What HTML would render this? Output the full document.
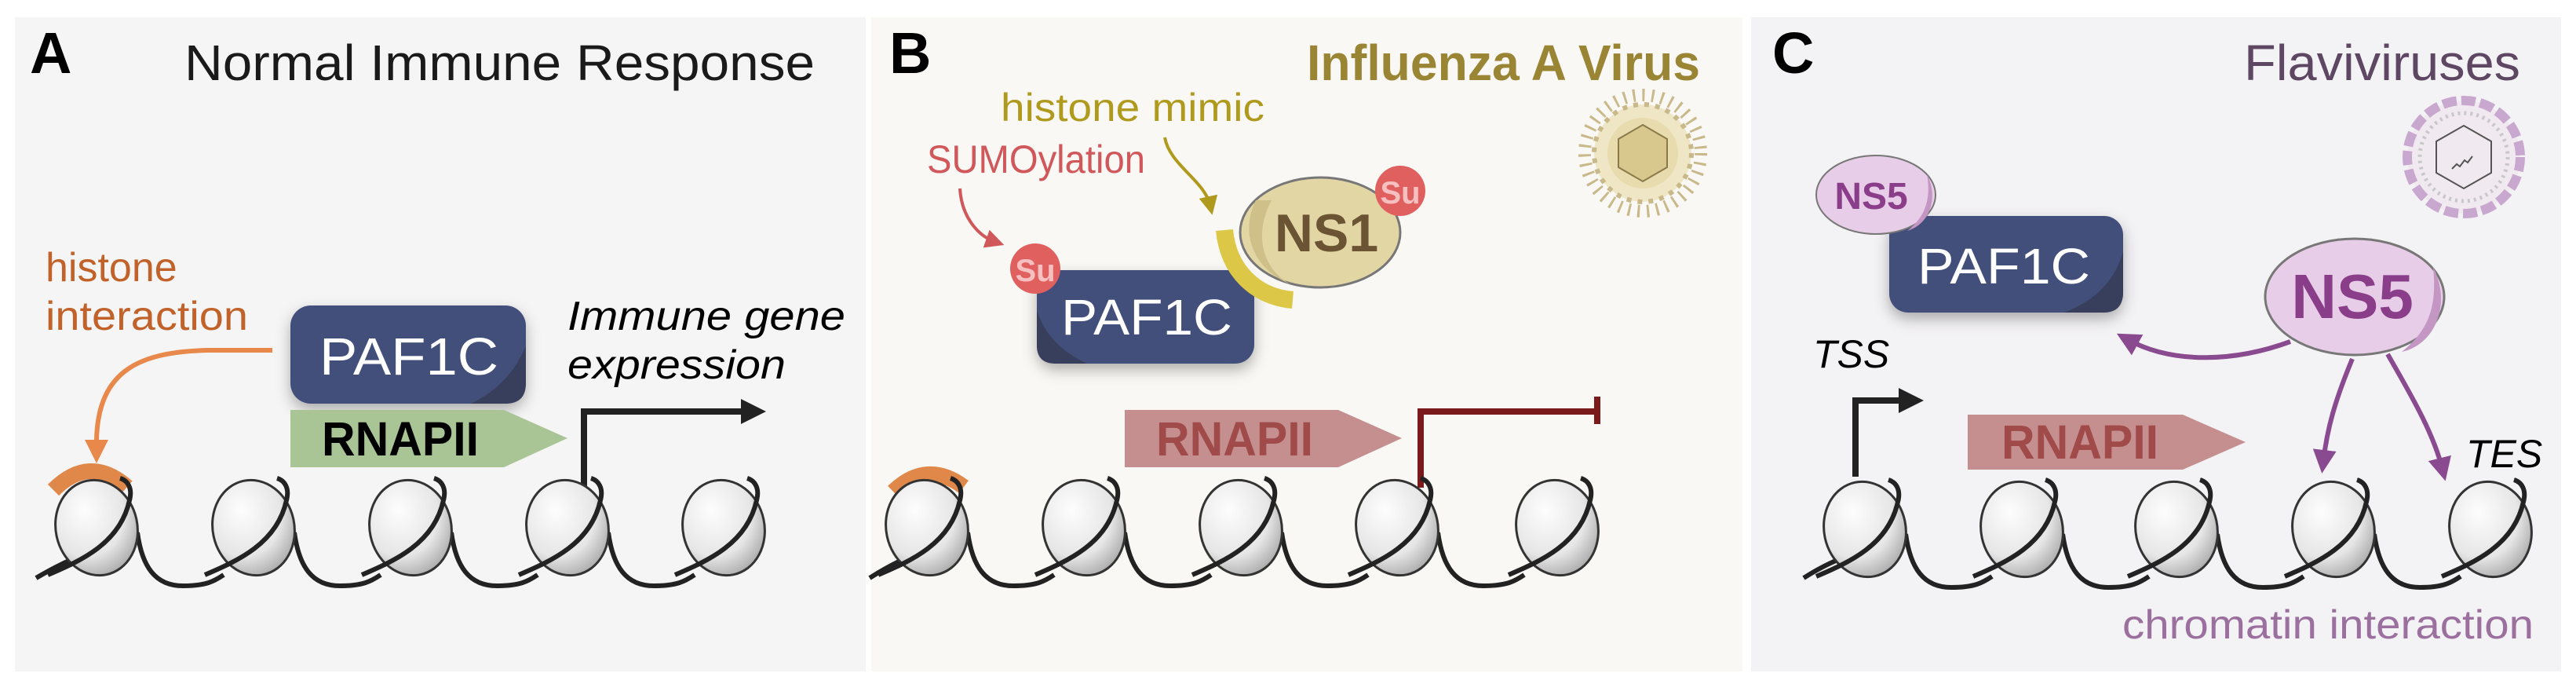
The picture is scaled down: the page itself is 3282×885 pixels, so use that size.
<!DOCTYPE html>
<html><head><meta charset="utf-8"><style>
html,body{margin:0;padding:0;background:#fff}
svg{display:block}
text{font-family:"Liberation Sans",Arial,sans-serif}
</style></head><body>
<svg width="3282" height="885" viewBox="0 0 3282 885" xmlns="http://www.w3.org/2000/svg">
<defs>
<radialGradient id="ng" cx="0.4" cy="0.3" r="0.8">
<stop offset="0" stop-color="#fdfdfd"/><stop offset="0.6" stop-color="#e6e6e6"/><stop offset="1" stop-color="#9a9a9a"/>
</radialGradient>
<g id="nuc">
<ellipse cx="0" cy="0" rx="52" ry="61" transform="rotate(-12)" fill="url(#ng)" stroke="#333" stroke-width="3"/>
<path d="M-62,60 C-20,42 30,20 42,-35 C46,-50 40,-60 30,-63" fill="none" stroke="#222" stroke-width="6"/>
</g>
<g id="dna">
<path d="M52,6 C58,50 75,74 110,74 C140,74 150,68 162,60" fill="none" stroke="#222" stroke-width="6"/>
</g>
<filter id="sh" x="-20%" y="-20%" width="140%" height="150%"><feDropShadow dx="0" dy="8" stdDeviation="9" flood-color="#000" flood-opacity="0.3"/></filter>
<marker id="ao" viewBox="0 0 10 10" refX="5" refY="5" markerWidth="5" markerHeight="5" orient="auto"><path d="M0,0L10,5L0,10z" fill="#e8884a"/></marker>
<marker id="ab" viewBox="0 0 10 10" refX="5" refY="5" markerWidth="4" markerHeight="4" orient="auto"><path d="M0,0L10,5L0,10z" fill="#222"/></marker>
<marker id="ar" viewBox="0 0 10 10" refX="5" refY="5" markerWidth="6" markerHeight="6" orient="auto"><path d="M0,0L10,5L0,10z" fill="#d0575a"/></marker>
<marker id="ay" viewBox="0 0 10 10" refX="5" refY="5" markerWidth="6" markerHeight="6" orient="auto"><path d="M0,0L10,5L0,10z" fill="#b09a1e"/></marker>
<marker id="ap" viewBox="0 0 10 10" refX="5" refY="5" markerWidth="5" markerHeight="5" orient="auto"><path d="M0,0L10,5L0,10z" fill="#8a4a90"/></marker>
</defs>

<rect x="19" y="22" width="1084" height="833" fill="#f5f5f5"/>
<rect x="1110" y="22" width="1110" height="833" fill="#f9f8f4"/>
<rect x="2231" y="22" width="1032" height="833" fill="#f3f2f5"/>

<!-- ===== Panel A ===== -->
<text x="38" y="93" font-size="74" font-weight="bold" fill="#000">A</text>
<text x="235" y="102" font-size="64" fill="#1a1a1a" textLength="803" lengthAdjust="spacingAndGlyphs">Normal Immune Response</text>
<text x="58" y="358" font-size="52" fill="#c0622a">histone</text>
<text x="58" y="420" font-size="52" fill="#c0622a" textLength="258" lengthAdjust="spacingAndGlyphs">interaction</text>
<path d="M347,446 L265,446 C180,448 125,470 123,560 L123,575" fill="none" stroke="#e8884a" stroke-width="6" marker-end="url(#ao)"/>
<path d="M68,624 Q114,578 162,620" fill="none" stroke="#e0884a" stroke-width="20"/>
<g filter="url(#sh)">
<rect x="370" y="389" width="300" height="125" rx="26" fill="#434f7a"/>
</g>
<path d="M670,440 L670,488 Q670,514 644,514 L600,514 Q650,490 670,440z" fill="#383f5c"/>
<text x="407" y="477" font-size="67" fill="#fff" textLength="228" lengthAdjust="spacingAndGlyphs">PAF1C</text>
<polygon points="370,522 642,522 723,558 642,595 370,595" fill="#a9c596"/>
<text x="410" y="580" font-size="61" font-weight="bold" fill="#000" textLength="200" lengthAdjust="spacingAndGlyphs">RNAPII</text>
<path d="M744,621 L744,524 L960,524" fill="none" stroke="#222" stroke-width="8" marker-end="url(#ab)"/>
<text x="723" y="420" font-size="52" font-style="italic" fill="#000" textLength="354" lengthAdjust="spacingAndGlyphs">Immune gene</text>
<text x="723" y="482" font-size="52" font-style="italic" fill="#000" textLength="278" lengthAdjust="spacingAndGlyphs">expression</text>
<path d="M46,736 C70,722 90,712 110,705" fill="none" stroke="#222" stroke-width="6"/>
<g transform="translate(123,672)"><use href="#dna"/><use href="#nuc"/></g>
<g transform="translate(323,672)"><use href="#dna"/><use href="#nuc"/></g>
<g transform="translate(523,672)"><use href="#dna"/><use href="#nuc"/></g>
<g transform="translate(723,672)"><use href="#dna"/><use href="#nuc"/></g>
<g transform="translate(922,672)"><use href="#nuc"/></g>

<!-- ===== Panel B ===== -->
<text x="1133" y="93" font-size="74" font-weight="bold" fill="#000">B</text>
<text x="1665" y="102" font-size="64" font-weight="bold" fill="#9a8535" textLength="501" lengthAdjust="spacingAndGlyphs">Influenza A Virus</text>
<text x="1275" y="154" font-size="50" fill="#b09a1e" textLength="336" lengthAdjust="spacingAndGlyphs">histone mimic</text>
<text x="1181" y="220" font-size="50" fill="#d0575a" textLength="278" lengthAdjust="spacingAndGlyphs">SUMOylation</text>
<path d="M1223,240 C1225,275 1245,300 1268,308" fill="none" stroke="#d0575a" stroke-width="4" marker-end="url(#ar)"/>
<path d="M1484,175 C1490,210 1535,230 1542,262" fill="none" stroke="#b09a1e" stroke-width="4" marker-end="url(#ay)"/>
<g filter="url(#sh)">
<rect x="1321" y="344" width="277" height="119" rx="24" fill="#434f7a"/>
</g>
<path d="M1321,395 L1321,440 Q1321,463 1345,463 L1385,463 Q1335,440 1321,395z" fill="#383f5c"/>
<text x="1352" y="426" font-size="64" fill="#fff" textLength="218" lengthAdjust="spacingAndGlyphs">PAF1C</text>
<circle cx="1319" cy="342" r="32" fill="#e06060"/>
<text x="1319" y="358" font-size="40" font-weight="bold" fill="#f7c0c0" text-anchor="middle">Su</text>
<path d="M1560,293 C1565,345 1600,378 1647,382" fill="none" stroke="#dcc846" stroke-width="22"/>
<ellipse cx="1682" cy="296" rx="102" ry="70" fill="#e3d6a5" stroke="#777" stroke-width="3"/>
<path d="M1600,255 C1578,300 1600,345 1645,362 C1610,345 1596,300 1620,255z" fill="#cfc08a"/>
<text x="1690" y="320" font-size="68" font-weight="bold" fill="#6b5434" text-anchor="middle">NS1</text>
<circle cx="1784" cy="243" r="32" fill="#e06060"/>
<text x="1784" y="259" font-size="40" font-weight="bold" fill="#f7c0c0" text-anchor="middle">Su</text>
<polygon points="1433,522 1705,522 1786,558 1705,595 1433,595" fill="#c58f8f"/>
<text x="1473" y="580" font-size="61" font-weight="bold" fill="#a04a4a" textLength="200" lengthAdjust="spacingAndGlyphs">RNAPII</text>
<path d="M1810,621 L1810,524 L2035,524" fill="none" stroke="#7a1a1a" stroke-width="8"/>
<path d="M2035,505 L2035,540" stroke="#7a1a1a" stroke-width="8"/>
<path d="M1138,626 Q1181,585 1228,620" fill="none" stroke="#e0884a" stroke-width="20"/>
<g transform="translate(2093,195)">
<circle r="62" fill="#efe6c6" stroke="#c9b98a" stroke-width="6" stroke-dasharray="6 8"/>
<circle r="74" fill="none" stroke="#c9b98a" stroke-width="16" stroke-dasharray="3 9"/>
<circle r="45" fill="#e8dcae"/>
<polygon points="0,-36 31,-18 31,18 0,36 -31,18 -31,-18" fill="#d8c88e" stroke="#8a7a4a" stroke-width="2"/>
</g>
<path d="M1108,736 C1130,722 1150,712 1168,705" fill="none" stroke="#222" stroke-width="6"/>
<g transform="translate(1181,672)"><use href="#dna"/><use href="#nuc"/></g>
<g transform="translate(1381,672)"><use href="#dna"/><use href="#nuc"/></g>
<g transform="translate(1581,672)"><use href="#dna"/><use href="#nuc"/></g>
<g transform="translate(1780,672)"><use href="#dna"/><use href="#nuc"/></g>
<g transform="translate(1984,672)"><use href="#nuc"/></g>

<!-- ===== Panel C ===== -->
<text x="2258" y="93" font-size="74" font-weight="bold" fill="#000">C</text>
<text x="2859" y="102" font-size="64" fill="#5e4763" textLength="352" lengthAdjust="spacingAndGlyphs">Flaviviruses</text>
<g filter="url(#sh)">
<rect x="2407" y="275" width="298" height="123" rx="24" fill="#434f7a"/>
</g>
<path d="M2705,320 L2705,372 Q2705,398 2680,398 L2630,398 Q2690,375 2705,320z" fill="#383f5c"/>
<text x="2443" y="361" font-size="64" fill="#fff" textLength="220" lengthAdjust="spacingAndGlyphs">PAF1C</text>
<ellipse cx="2390" cy="248" rx="76" ry="50" fill="#e8cde8" stroke="#777" stroke-width="2"/>
<path d="M2455,222 C2470,250 2460,285 2430,294 C2455,275 2460,250 2455,222z" fill="#c496c4"/>
<text x="2384" y="266" font-size="48" font-weight="bold" fill="#8a3e8a" text-anchor="middle">NS5</text>
<ellipse cx="3000" cy="378" rx="114" ry="74" fill="#e8cde8" stroke="#777" stroke-width="3"/>
<path d="M3100,340 C3125,390 3100,440 3060,448 C3095,420 3105,390 3100,340z" fill="#c496c4"/>
<text x="2997" y="405" font-size="80" font-weight="bold" fill="#8a3e8a" text-anchor="middle">NS5</text>
<path d="M2918,435 C2850,460 2770,465 2710,432" fill="none" stroke="#8a4a90" stroke-width="6" marker-end="url(#ap)"/>
<path d="M2997,457 C2975,510 2965,545 2960,588" fill="none" stroke="#8a4a90" stroke-width="6" marker-end="url(#ap)"/>
<path d="M3042,451 C3070,500 3100,550 3112,598" fill="none" stroke="#8a4a90" stroke-width="6" marker-end="url(#ap)"/>
<text x="2310" y="468" font-size="50" font-style="italic" fill="#000">TSS</text>
<path d="M2364,607 L2364,510 L2435,510" fill="none" stroke="#222" stroke-width="8" marker-end="url(#ab)"/>
<polygon points="2507,528 2781,528 2861,563 2781,598 2507,598" fill="#c58f8f"/>
<text x="2550" y="584" font-size="61" font-weight="bold" fill="#a04a4a" textLength="200" lengthAdjust="spacingAndGlyphs">RNAPII</text>
<text x="3142" y="595" font-size="50" font-style="italic" fill="#000">TES</text>
<text x="2704" y="813" font-size="52" fill="#9b6f9e" textLength="524" lengthAdjust="spacingAndGlyphs">chromatin interaction</text>
<g transform="translate(3139,200)">
<circle r="72" fill="#f0eaf0" stroke="#c9a8d0" stroke-width="12" stroke-dasharray="18 6"/>
<circle r="56" fill="none" stroke="#c8c8c8" stroke-width="5" stroke-dasharray="3 5"/>
<polygon points="0,-40 35,-20 35,20 0,40 -35,20 -35,-20" fill="none" stroke="#555" stroke-width="2"/>
<path d="M-15,15 l6,-6 l4,3 l6,-8 l4,3 l6,-8" fill="none" stroke="#555" stroke-width="2"/>
</g>
<path d="M2298,736 C2320,722 2340,712 2363,705" fill="none" stroke="#222" stroke-width="6"/>
<g transform="translate(2376,674)"><use href="#dna"/><use href="#nuc"/></g>
<g transform="translate(2576,674)"><use href="#dna"/><use href="#nuc"/></g>
<g transform="translate(2773,674)"><use href="#dna"/><use href="#nuc"/></g>
<g transform="translate(2973,674)"><use href="#dna"/><use href="#nuc"/></g>
<g transform="translate(3173,674)"><use href="#nuc"/></g>
</svg>
</body></html>
